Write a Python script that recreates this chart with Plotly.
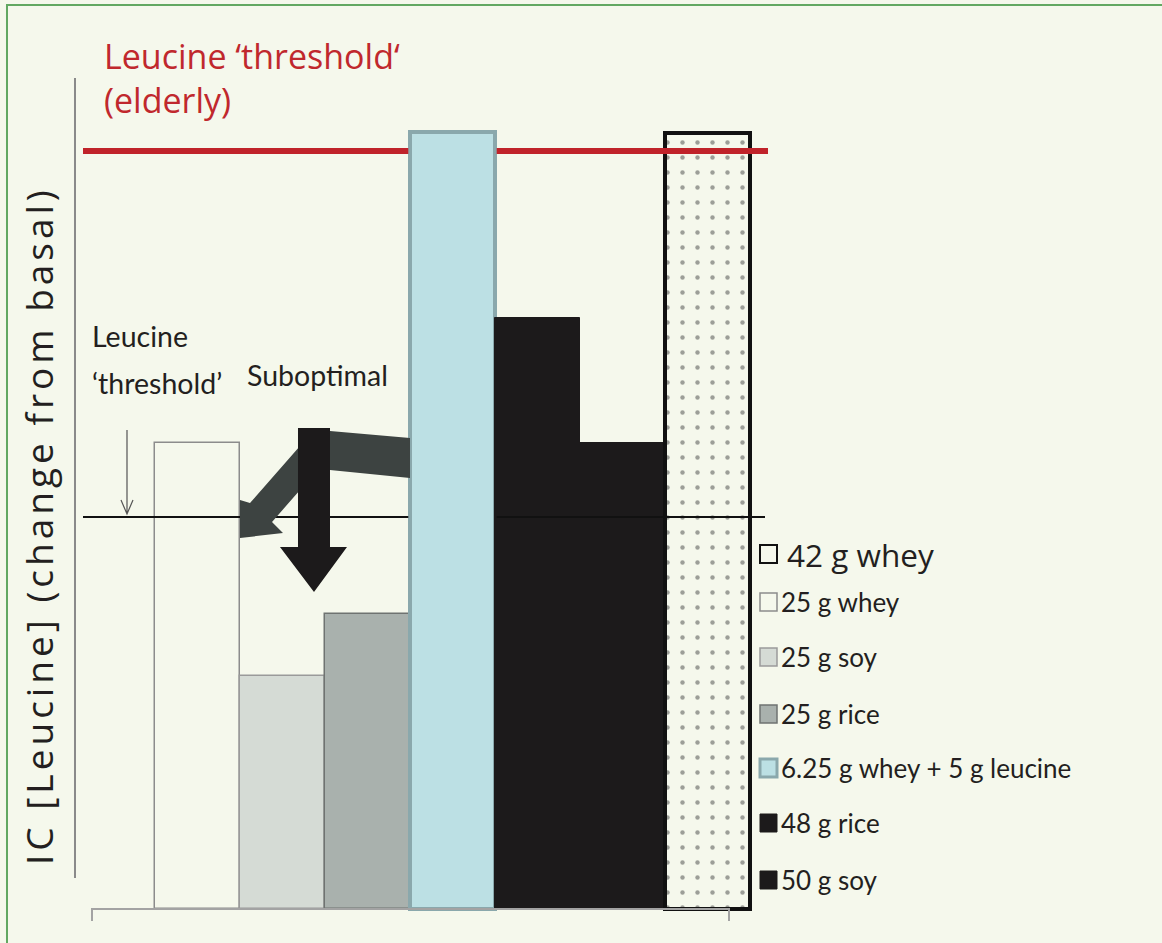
import plotly.graph_objects as go

W, H = 1162, 943

# data (relative units: young-adult leucine threshold = 1)
categories = ["25 g whey", "25 g soy", "25 g rice", "6.25 g whey + 5 g leucine",
              "48 g rice", "50 g soy", "42 g whey"]
values = [1.189, 0.594, 0.752, 1.983, 1.508, 1.189, 1.981]
threshold_young = 1.0
threshold_elderly = 1.935
legend_order = ["42 g whey", "25 g whey", "25 g soy", "25 g rice",
                "6.25 g whey + 5 g leucine", "48 g rice", "50 g soy"]

BG = "#f5f8ec"
fills = [BG, "#d5dbd5", "#a9b1ad", "#bce0e4", "#1c1a1b", "#1c1a1b", BG]
edges = ["#8c8c8c", "#9a9a9a", "#6f7371", "#8aa8ac", "#1c1a1b", "#1c1a1b", "#111111"]
edge_w = [1.5, 1.5, 1.5, 4, 1, 1, 4]
patterns = ["", "", "", "", "", "", "."]

NARROW = "Lato, Roboto, sans-serif"


def px(x, y):
    # pixel position -> paper fraction (margins are zero)
    return x / W, 1 - y / H


def path(points, close=True):
    s = ""
    for i, (x, y) in enumerate(points):
        a, b = px(x, y)
        s += ("M" if i == 0 else "L") + f"{a:.5f},{b:.5f} "
    return s + ("Z" if close else "")


# x axis: bar i centred at pixel 197.5 + 85*i
x_rng = [-197.5 / 85, (W - 197.5) / 85]
y_rng = [-(H - 908.5) / 391.5, 908.5 / 391.5]


def dx(pxl):
    return (pxl - 197.5) / 85


fig = go.Figure()
fig.add_trace(go.Bar(
    x=list(range(len(categories))), y=values, width=1,
    marker=dict(color=fills, line=dict(color=edges, width=edge_w),
                pattern=dict(shape=patterns, fgcolor="#000000", size=15, solidity=0.07)),
    hoverinfo="skip", showlegend=False,
))

shapes = []
# threshold lines (hidden behind the blue bar)
for y, col, wid, xend in [(threshold_young, "#111111", 2, 765), (threshold_elderly, "#c0232a", 6, 768)]:
    shapes.append(dict(type="line", xref="x", yref="y", x0=dx(83), x1=2.48, y0=y, y1=y,
                       line=dict(color=col, width=wid)))
    shapes.append(dict(type="line", xref="x", yref="y", x0=3.52, x1=dx(xend), y0=y, y1=y,
                       line=dict(color=col, width=wid)))

# axis lines
shapes.append(dict(type="path", xref="paper", yref="paper", path=path([(75, 78), (75, 878)], False),
                   line=dict(color="#8a8a8a", width=2)))
shapes.append(dict(type="path", xref="paper", yref="paper",
                   path=path([(92, 921), (92, 909), (729, 909), (729, 921)], False),
                   line=dict(color="#a3a3a3", width=2)))

# small arrow to young threshold
shapes.append(dict(type="path", xref="paper", yref="paper",
                   path=path([(127, 430), (127, 514)], False) + path([(121, 500), (127, 514), (133, 500)], False),
                   line=dict(color="#555555", width=1.2)))

# grey bent arrow from the blue bar
shapes.append(dict(type="path", xref="paper", yref="paper", fillcolor="#3d4341",
                   line=dict(width=0),
                   path=path([(410, 438), (330, 431), (312, 434), (300, 446), (250, 503),
                              (240, 500), (240, 538), (283, 533), (272, 522), (300, 490),
                              (314, 474), (330, 470), (410, 478)])))
# black down arrow
shapes.append(dict(type="path", xref="paper", yref="paper", fillcolor="#1c1a1b",
                   line=dict(width=0),
                   path=path([(298, 428), (330, 428), (330, 547), (347, 547), (314, 592),
                              (280, 547), (298, 547)])))

# frame
shapes.append(dict(type="path", xref="paper", yref="paper",
                   path=path([(7, 943), (7, 5), (1162, 5)], False),
                   line=dict(color="#62a862", width=2)))

annotations = []
# legend
row_y = [554, 602, 657, 714, 768, 823, 880]
for name, yy in zip(legend_order, row_y):
    i = categories.index(name)
    p0, p1 = px(760, yy - 9), px(777, yy + 9)
    shapes.append(dict(type="rect", xref="paper", yref="paper", x0=p0[0], x1=p1[0], y0=p1[1], y1=p0[1],
                       fillcolor=fills[i], line=dict(color=edges[i], width=min(edge_w[i], 3) if i != 6 else 2)))
    big = name == "42 g whey"
    annotations.append(dict(xref="paper", yref="paper", x=px(785 if big else 779, 0)[0], y=px(0, yy)[1],
                            text=name, showarrow=False, xanchor="left", yanchor="middle",
                            font=dict(family="Open Sans" if big else NARROW,
                                      size=31.5 if big else 26, color="#231f20")))

annotations += [
    dict(xref="paper", yref="paper", x=px(102, 0)[0], y=px(0, 31)[1], xanchor="left", yanchor="top",
         text="Leucine ‘threshold‘<br>(elderly)", align="left", showarrow=False,
         font=dict(family="Open Sans", size=34, color="#c0282d")),
    dict(xref="paper", yref="paper", x=px(90, 0)[0], y=px(0, 336)[1], xanchor="left", yanchor="middle",
         text="Leucine", showarrow=False,
         font=dict(family=NARROW, size=28.5, color="#231f20")),
    dict(xref="paper", yref="paper", x=px(90, 0)[0], y=px(0, 383)[1], xanchor="left", yanchor="middle",
         text="‘threshold’", showarrow=False,
         font=dict(family=NARROW, size=28.5, color="#231f20")),
    dict(xref="paper", yref="paper", x=px(245, 0)[0], y=px(0, 375)[1], xanchor="left", yanchor="middle",
         text="Suboptimal", showarrow=False,
         font=dict(family=NARROW, size=28.5, color="#231f20")),
    dict(xref="paper", yref="paper", x=px(38, 0)[0], y=px(0, 526)[1], xanchor="center", yanchor="middle",
         text='<span style="letter-spacing:4px">IC [Leucine] (change from basal)</span>',
         textangle=-90, showarrow=False,
         font=dict(family="Open Sans", size=37, color="#231f20")),
]

fig.update_layout(
    width=W, height=H, margin=dict(l=0, r=0, t=0, b=0),
    paper_bgcolor=BG, plot_bgcolor="rgba(0,0,0,0)",
    xaxis=dict(range=x_rng, visible=False, fixedrange=True),
    yaxis=dict(range=y_rng, visible=False, fixedrange=True),
    bargap=0, shapes=shapes, annotations=annotations,
)

fig.write_html("out.html", config={"displayModeBar": False},
               post_script="document.body.style.margin='0';")
